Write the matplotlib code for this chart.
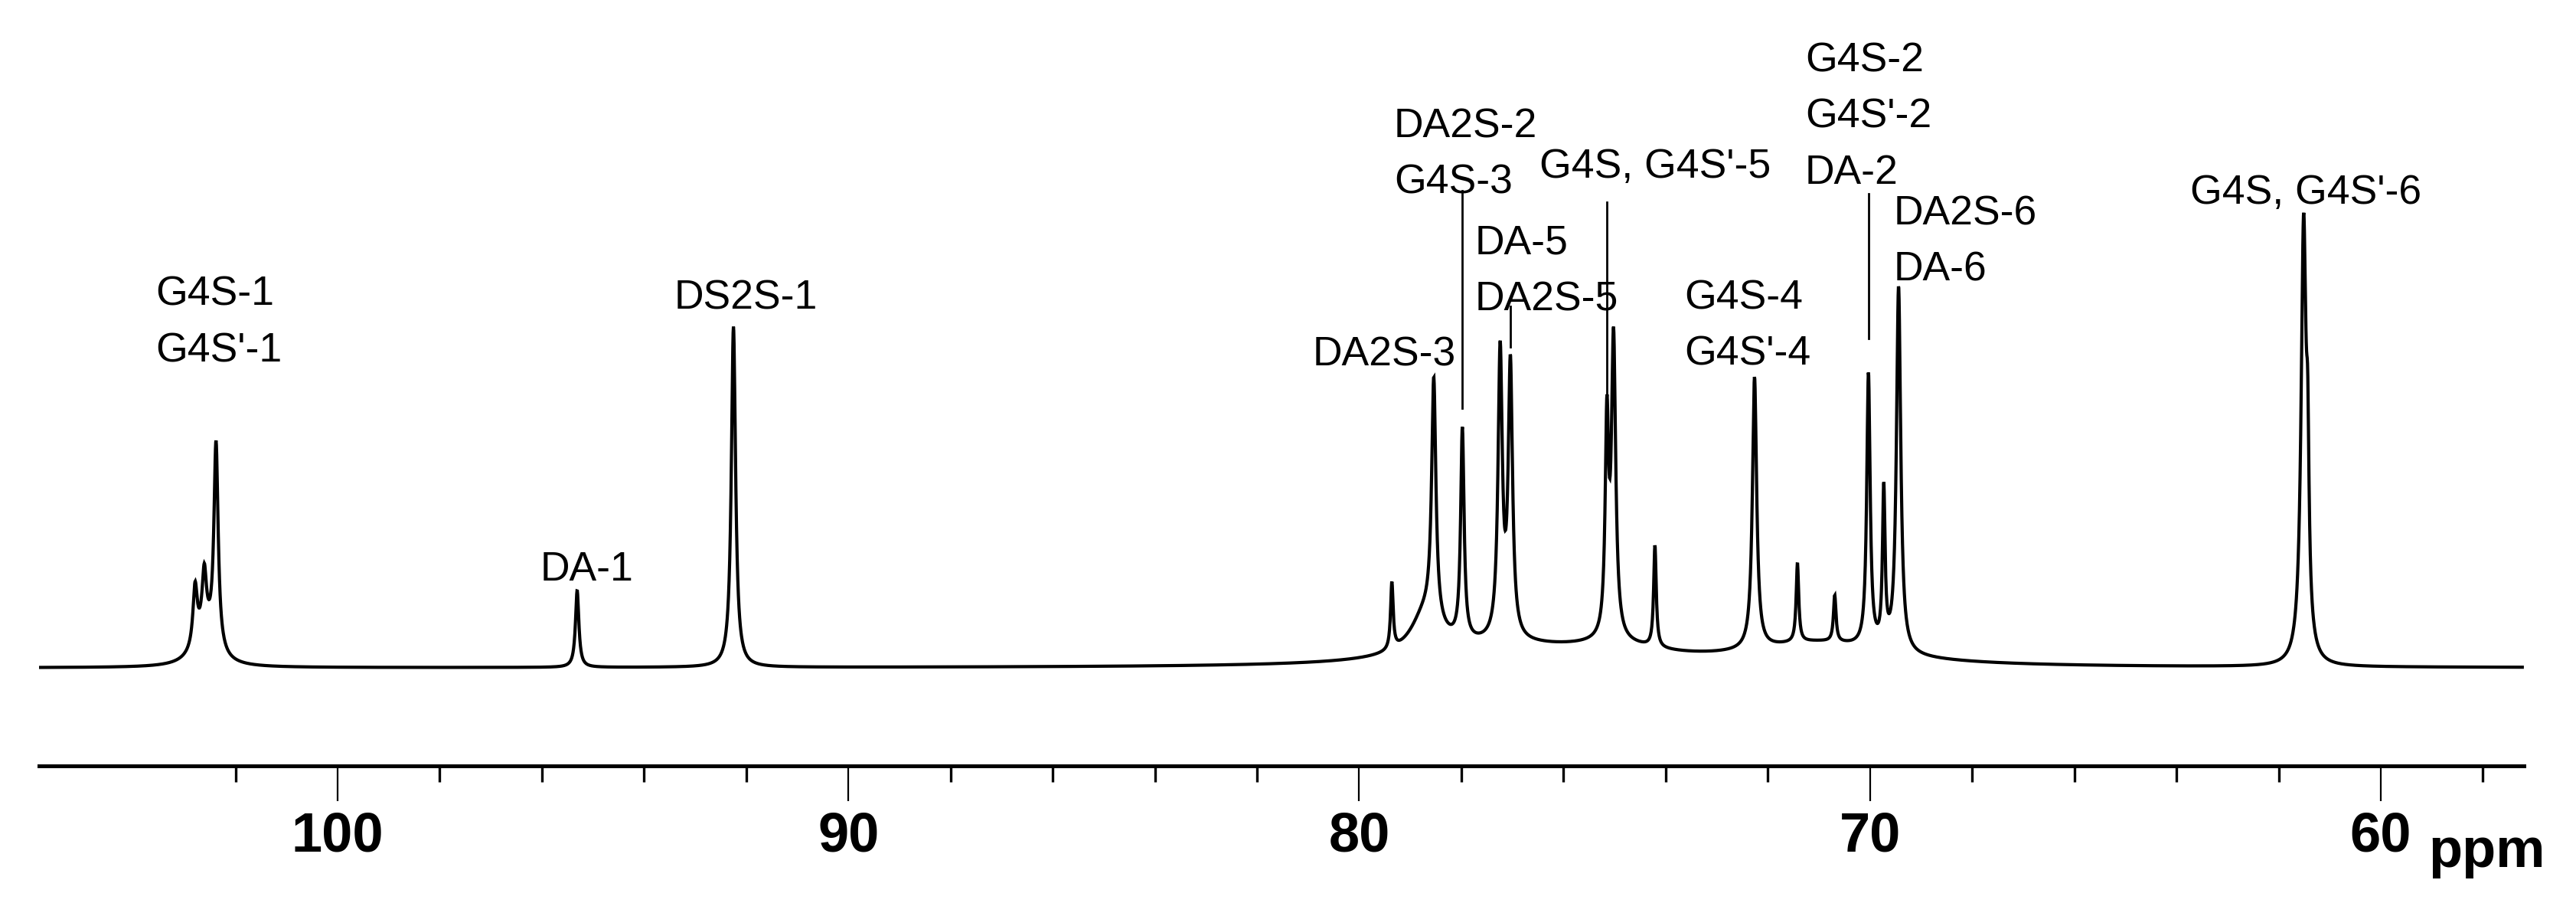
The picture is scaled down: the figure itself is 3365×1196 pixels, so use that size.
import numpy as np
import matplotlib
matplotlib.use("Agg")
import matplotlib.pyplot as plt
from matplotlib import font_manager


# line list: shift (ppm), apex height (% of tallest line), half width (ppm)
PEAK_PPM = [102.79, 102.61, 102.38, 95.31, 92.25, 79.36, 78.54, 77.98, 77.24, 77.04,
            75.15, 75.02, 74.21, 72.26, 71.42, 70.69, 70.03, 69.73, 69.44, 61.51, 61.43]
PEAK_APEX = [19, 23, 50, 17, 75, 19, 64, 53, 72, 69,
             60, 75, 27, 64, 23, 16, 65, 41, 84, 100, 65]
PEAK_HWHM = [0.05, 0.05, 0.05, 0.04, 0.05, 0.03, 0.05, 0.04, 0.05, 0.05,
             0.04, 0.05, 0.03, 0.05, 0.03, 0.03, 0.04, 0.03, 0.05, 0.06, 0.03]

# broad feet under the crowded 80-68 ppm region
BROAD_PPM = [102.6, 78.7, 77.2, 75.0, 71.0]
BROAD_HEIGHT = [7, 9, 4, 3, 5]
BROAD_HWHM = [0.25, 0.35, 1.8, 1.2, 1.6]

PPM_START, PPM_END = 105.83, 57.23

# assignments: text, shift of left edge (ppm), top of text (% units)
LABELS = [
    ("G4S-1\nG4S'-1", 103.57, 86.2),
    ("DA-1", 96.04, 25.8),
    ("DS2S-1", 93.41, 85.4),
    ("DA2S-3", 80.91, 72.9),
    ("DA2S-2\nG4S-3", 79.32, 123.2),
    ("DA-5\nDA2S-5", 77.74, 97.5),
    ("G4S, G4S'-5", 76.47, 114.3),
    ("G4S-4\nG4S'-4", 73.64, 85.5),
    ("G4S-2\nG4S'-2\nDA-2", 71.27, 137.7),
    ("DA2S-6\nDA-6", 69.53, 104.0),
    ("G4S, G4S'-6", 63.73, 108.6),
]
# leader lines: shift, lower end, upper end (% units)
LEADERS = [
    (77.98, 57.0, 104.9),
    (77.04, 70.5, 79.5),
    (75.15, 60.0, 102.4),
    (70.03, 72.4, 104.2),
]

MAJOR_TICKS = [100, 90, 80, 70, 60]
MINOR_TICKS = [102, 98, 96, 94, 92, 88, 86, 84, 82, 78, 76, 74, 72, 68, 66, 64, 62, 58]


def pick_font():
    # the original uses a condensed Arial-like face; fall back to regular width, set smaller
    try:
        font_manager.findfont("Liberation Sans Narrow", fallback_to_default=False)
        return ["Liberation Sans Narrow", "DejaVu Sans"], 42, 57
    except ValueError:
        return ["Liberation Sans", "DejaVu Sans"], 38.5, 52


def lorentz(x, x0, w):
    return 1.0 / (1.0 + ((x - x0) / w) ** 2)


def build_spectrum(ppm):
    broad = np.zeros_like(ppm)
    for x0, h, w in zip(BROAD_PPM, BROAD_HEIGHT, BROAD_HWHM):
        broad += h * lorentz(ppm, x0, w)
    # heights chosen so the summed curve passes through the read apexes
    apex_x = np.array(PEAK_PPM)
    basis = np.array([[lorentz(xi, x0, w) for x0, w in zip(PEAK_PPM, PEAK_HWHM)] for xi in apex_x])
    broad_at_apex = np.zeros_like(apex_x)
    for x0, h, w in zip(BROAD_PPM, BROAD_HEIGHT, BROAD_HWHM):
        broad_at_apex += h * lorentz(apex_x, x0, w)
    heights = np.linalg.solve(basis, np.array(PEAK_APEX, dtype=float) - broad_at_apex)
    heights = np.clip(heights, 0, None)
    spec = broad.copy()
    for x0, h, w in zip(PEAK_PPM, heights, PEAK_HWHM):
        spec += h * lorentz(ppm, x0, w)
    return spec


def main():
    family, label_size, tick_size = pick_font()
    plt.rcParams["font.family"] = family
    fig = plt.figure(figsize=(33.65, 11.96), dpi=100)
    ax = fig.add_axes([51 / 3365, 196 / 1196, (3297 - 51) / 3365, 1000 / 1196])

    ppm = np.linspace(PPM_START, PPM_END, 8000)
    ax.plot(ppm, build_spectrum(ppm), color="black", lw=3.0, solid_joinstyle="miter")

    for text, x, y in LABELS:
        ax.text(x, y, text, ha="left", va="top", fontsize=label_size, linespacing=1.6)
    for x, y0, y1 in LEADERS:
        ax.plot([x, x], [y0, y1], color="black", lw=2.0)

    ax.set_xlim(105.845, 57.197)
    ax.set_ylim(-21.55, 146.8)
    for side in ["left", "right", "top"]:
        ax.spines[side].set_visible(False)
    ax.spines["bottom"].set_linewidth(3.6)
    ax.set_yticks([])
    ax.set_xticks(MAJOR_TICKS)
    ax.set_xticklabels([str(t) for t in MAJOR_TICKS], fontsize=tick_size, fontweight="bold")
    ax.set_xticks(MINOR_TICKS, minor=True)
    ax.tick_params(axis="x", which="major", length=33, width=1.6, pad=9, direction="out")
    ax.tick_params(axis="x", which="minor", length=15, width=2.4, direction="out")

    fig.text(3172 / 3365, (1196 - 1132) / 1196, "ppm", fontsize=tick_size, fontweight="bold",
             ha="left", va="baseline")

    fig.savefig("out.png", dpi=100, facecolor="white")
    plt.close(fig)


if __name__ == "__main__":
    main()
